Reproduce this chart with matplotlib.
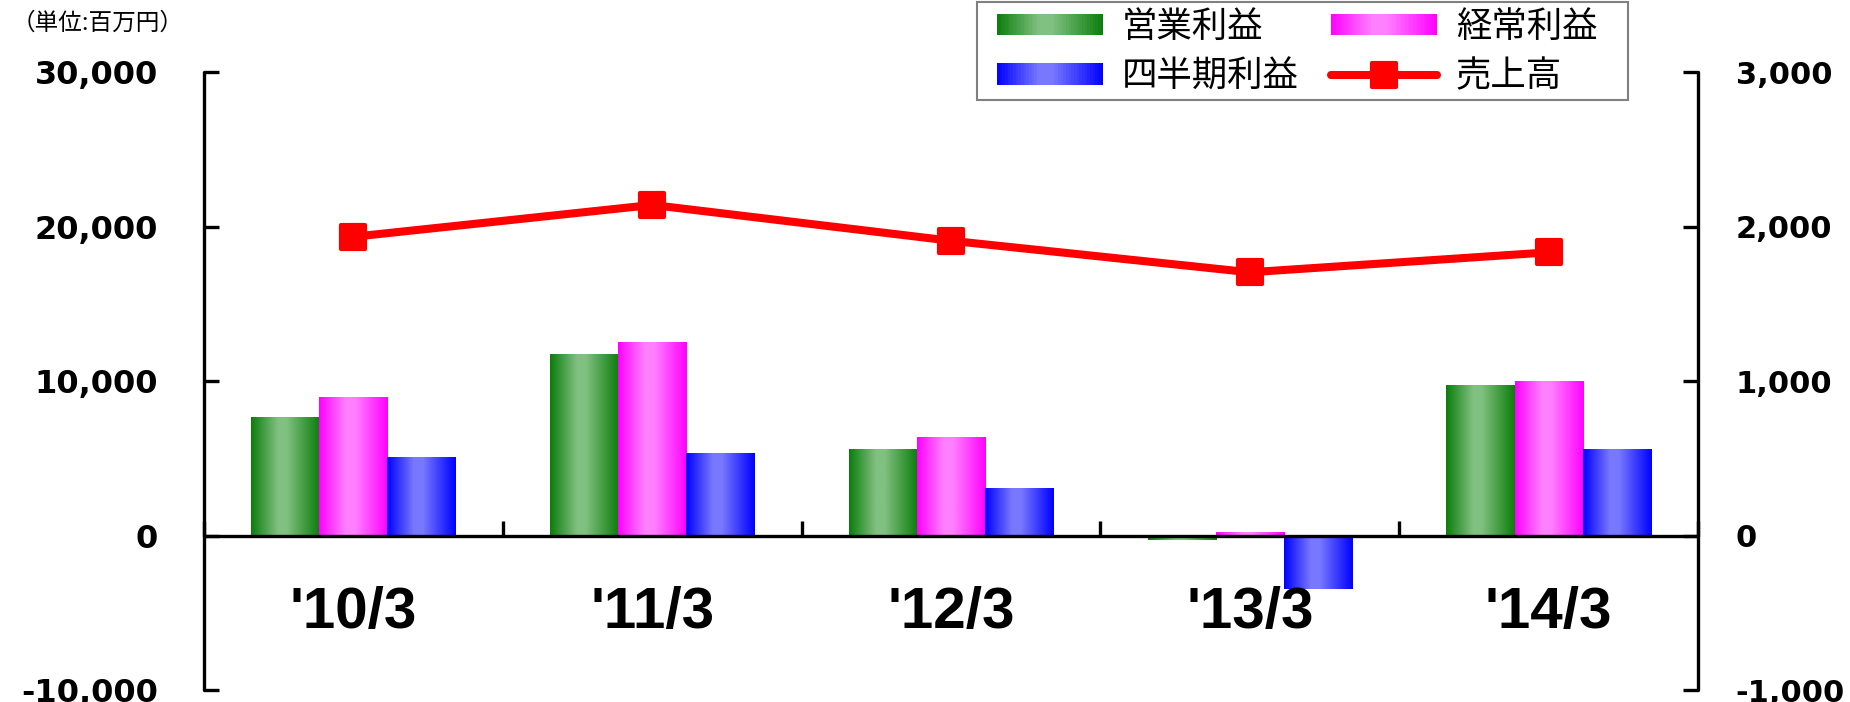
import numpy as np
import matplotlib
matplotlib.use("Agg")
import matplotlib.pyplot as plt
from matplotlib.patches import Rectangle
from matplotlib.legend_handler import HandlerBase
from matplotlib.markers import MarkerStyle
from matplotlib.lines import Line2D
from matplotlib.ticker import FuncFormatter, FixedLocator
from matplotlib.colors import to_rgb

# ---- data ----
categories = ["'10/3", "'11/3", "'12/3", "'13/3", "'14/3"]
operating_profit = [7680, 11760, 5600, -300, 9750]      # 営業利益
ordinary_profit = [8970, 12530, 6380, 230, 10010]       # 経常利益
quarterly_profit = [5080, 5340, 3080, -3440, 5600]      # 四半期利益
sales = [1935, 2141, 1909, 1705, 1834]                  # 売上高 (right axis)

series_names = ["営業利益", "経常利益", "四半期利益"]
sales_name = "売上高"
left_ticks = [-10000, 0, 10000, 20000, 30000]
right_ticks = [-1000, 0, 1000, 2000, 3000]
unit_label = "（単位:百万円）"

# ---- styles ----
grad_colors = [("#0b7d0b", "#80c080"), ("#ff00ff", "#ff80ff"), ("#0000ff", "#7878ff")]
CJK = ["Noto Sans CJK JP", "DejaVu Sans"]
plt.rcParams["font.family"] = ["DejaVu Sans", "Noto Sans CJK JP"]
W, H = 1850, 702


def grad_profile(n, edge, mid):
    e = np.array(to_rgb(edge))
    m = np.array(to_rgb(mid))
    t = (np.arange(n) + 0.5) / n
    s = np.where(t < 0.45, t / 0.45, (1 - t) / 0.55)
    s = np.clip(s * 1.15, 0, 1)
    return e[None, :] * (1 - s[:, None]) + m[None, :] * s[:, None]


class GradHandler(HandlerBase):
    def __init__(self, edge, mid):
        super().__init__()
        self.edge, self.mid = edge, mid

    def create_artists(self, legend, orig_handle, xdescent, ydescent,
                       width, height, fontsize, trans):
        n = 40
        cols = grad_profile(n, self.edge, self.mid)
        arts = []
        for i in range(n):
            r = Rectangle((-xdescent + width * i / n, -ydescent),
                          width / n * 1.08, height, facecolor=cols[i],
                          edgecolor="none", linewidth=0, transform=trans)
            arts.append(r)
        return arts


fig = plt.figure(figsize=(W / 100, H / 100), dpi=100)
ax = fig.add_axes([204 / W, 12 / H, (1698 - 204) / W, (690 - 72.3) / H])
ax2 = ax.twinx()

x = np.arange(len(categories))
bw = 0.228
all_series = [operating_profit, ordinary_profit, quarterly_profit]
for k, (vals, (edge, mid)) in enumerate(zip(all_series, grad_colors)):
    bars = ax.bar(x + (k - 1) * bw, vals, width=bw, facecolor="none",
                  edgecolor="none", linewidth=0, zorder=1.5)
    img = grad_profile(64, edge, mid)[None, :, :]
    for p in bars.patches:
        x0, y0 = p.get_x(), p.get_y()
        x1, y1 = x0 + p.get_width(), y0 + p.get_height()
        im = ax.imshow(img, extent=[x0, x1, min(y0, y1), max(y0, y1)],
                       aspect="auto", interpolation="bilinear", zorder=1.5)
        im.set_clip_path(p)

ax.set_xlim(-0.5, len(categories) - 0.5)
ax.set_ylim(-10000, 30000)

# line on right axis
mk = MarkerStyle("s", joinstyle="round")
line, = ax2.plot(x, sales, color="#ff0000", lw=5.8, marker=mk, ms=17,
                 mec="#ff0000", mew=3, solid_joinstyle="round", zorder=3)
ax2.set_ylim(-1000, 3000)
ax2.set_xlim(-0.5, len(categories) - 0.5)

# spines
for s in ["top"]:
    ax.spines[s].set_visible(False)
    ax2.spines[s].set_visible(False)
ax.spines["right"].set_visible(False)
ax2.spines["left"].set_visible(False)
ax2.spines["bottom"].set_visible(False)
ax.spines["bottom"].set_position(("data", 0))
for sp in [ax.spines["left"], ax.spines["bottom"], ax2.spines["right"]]:
    sp.set_linewidth(2.4)
    sp.set_color("black")
    sp.set_capstyle("round")

fmt = FuncFormatter(lambda v, p: f"{v:,.0f}")
ax.yaxis.set_major_locator(FixedLocator(left_ticks))
ax.yaxis.set_major_formatter(fmt)
ax2.yaxis.set_major_locator(FixedLocator(right_ticks))
ax2.yaxis.set_major_formatter(fmt)
ax.tick_params(axis="y", direction="in", length=11, width=2.4, pad=33,
               labelsize=23)
ax2.tick_params(axis="y", direction="in", length=11, width=2.4, pad=27,
                labelsize=22)
for t in ax.get_yticklabels() + ax2.get_yticklabels():
    t.set_fontweight("bold")
    t.set_family("DejaVu Sans")

# x axis: boundary ticks (major), category labels (minor)
ax.set_xticks(np.arange(-0.5, len(categories), 1.0))
ax.set_xticklabels([])
ax.set_xticks(x, minor=True)
ax.set_xticklabels(categories, minor=True)
ax.tick_params(axis="x", which="major", direction="in", length=11, width=2.4)
ax.tick_params(axis="x", which="minor", length=0, pad=36, labelsize=42)
for t in ax.get_xticklabels(minor=True):
    t.set_fontweight("bold")
    t.set_family("Liberation Sans")

# legend (frame drawn separately)
frame = Rectangle((977 / W, 1 - 100 / H), (1628 - 977) / W, 98 / H,
                  transform=fig.transFigure, facecolor="white",
                  edgecolor="#808080", linewidth=1.5, zorder=5)
fig.add_artist(frame)
proxies = [Rectangle((0, 0), 1, 1) for _ in series_names]
hmap = {p: GradHandler(e, m) for p, (e, m) in zip(proxies, grad_colors)}
leg_line = Line2D([0], [0], color="#ff0000", lw=5.8, marker=mk, ms=17,
                  mec="#ff0000", mew=3, solid_capstyle="round")
handles = [proxies[0], proxies[2], proxies[1], leg_line]
labels = [series_names[0], series_names[2], series_names[1], sales_name]
leg = fig.legend(handles, labels, handler_map=hmap, ncol=2,
                 loc="upper left", bbox_to_anchor=(997 / W, 1 - 9 / H),
                 borderaxespad=0, frameon=False,
                 prop={"family": CJK, "size": 25.5},
                 handlelength=3.0, handleheight=0.55, handletextpad=0.53,
                 columnspacing=0.9, labelspacing=0.38, borderpad=0)
leg.set_zorder(6)

fig.text(12 / W, 1 - 23 / H, unit_label, fontsize=17, va="center",
         ha="left", family=CJK)

fig.savefig("out.png", dpi=100)
